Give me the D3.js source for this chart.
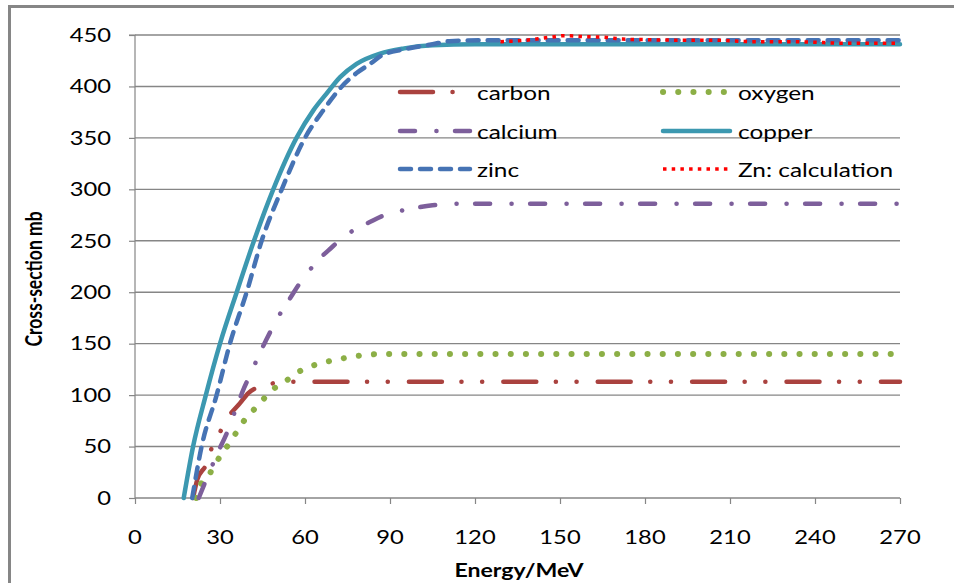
<!DOCTYPE html>
<html>
<head>
<meta charset="utf-8">
<script src="https://cdn.jsdelivr.net/npm/d3@7"></script>
<style>
  html, body { margin: 0; padding: 0; background: #fff; }
  svg { display: block; }
  text { font-family: Lato, "Open Sans", sans-serif; fill: #000; }
</style>
</head>
<body>
<svg id="chart" width="954" height="585"></svg>
<script>
// ---------- data (energy MeV, cross-section mb) ----------
const seriesNames = ["carbon", "oxygen", "calcium", "copper", "zinc", "Zn: calculation"];

const carbon = [[20.5,0],[22,18],[25,32],[27,48],[30,64],[33,79],[37,92],[40,102],[45,109],[50,112],[55,113],[60,113],[270,113]];
const oxygen = [[21.5,0],[23,12],[26,22],[28.5,34],[31.5,46],[34,56],[36.5,67],[39,77],[42,86],[45,95],[48,104],[51,110],[55,117],[58,123],[62,128],[67,132],[72,135],[76,137],[81,139],[88,140],[270,140]];
const calcium = [[22.5,0],[24.7,15],[27,30],[29.7,47],[32.1,61],[34.3,77],[36.5,93],[38.5,107],[41.2,123],[43.9,140],[46.2,153],[49,168],[52.3,184],[54.7,194],[58.2,209],[61.5,221],[65.3,233],[69.2,243],[72.9,252],[77,260],[82.7,268],[88.2,275],[92.9,278.5],[99,282],[105,284.5],[115,286],[270,286]];
const copper = [[17.2,0],[20.5,50],[25,100],[30,150],[35.9,200],[42,250],[48.8,300],[57,350],[63,377],[67.6,393],[72.4,409],[78.2,422],[86.5,432],[95,437],[105,440],[120,441],[270,441]];
const zinc = [[20.2,0],[23.5,50],[28.8,100],[33.5,150],[39.4,200],[44.7,250],[51.8,300],[60,350],[66.5,377],[73,400],[78.2,413],[83,422],[87,430],[95,436],[105,441],[111,444],[125,445],[270,445]];
const znCalc = [[129,443.5],[133,444],[140,445.5],[144,447],[148,448.3],[151,449.3],[155,449],[159,448.3],[165,448],[169,446.8],[172,446],[180,445.5],[190,445],[204,445],[218,443.5],[232,443.5],[243,442.6],[250,442],[270,442]];

const xTicks = [0, 30, 60, 90, 120, 150, 180, 210, 240, 270];
const yTicks = [0, 50, 100, 150, 200, 250, 300, 350, 400, 450];
const xTitle = "Energy/MeV";
const yTitle = "Cross-section mb";

// ---------- styles ----------
const styles = {
  "carbon":          { color: "#AA423F", width: 4.5, dash: "33,19.5,0.1,20.6,0.1,21.1", cap: "round" },
  "oxygen":          { color: "#8CAF46", width: 6,   dash: "0.1,15.1", cap: "round" },
  "calcium":         { color: "#7D5F9B", width: 4.5, dash: "15,21.4,0.1,18.5", cap: "round" },
  "copper":          { color: "#3C98B0", width: 4.5, dash: null, cap: "round" },
  "zinc":            { color: "#4673B4", width: 4.5, dash: "11,9", cap: "round" },
  "Zn: calculation": { color: "#FF0000", width: 3.5, dash: "3.5,5.2", cap: "butt" }
};
const seriesData = [carbon, oxygen, calcium, copper, zinc, znCalc];

(function draw() {
  const SX = 1.25;       // horizontal stretch of the text
  const pL = 135, pR = 900, pT = 35, pB = 498;
  const grey = "#868686";

  const svg = d3.select("#chart");
  svg.append("rect").attr("width", 954).attr("height", 585).attr("fill", "#fff");

  svg.append("line").attr("x1", 9.5).attr("x2", 9.5).attr("y1", 5).attr("y2", 583)
    .attr("stroke", grey).attr("stroke-width", 3);
  svg.append("line").attr("x1", 8).attr("x2", 954).attr("y1", 6.5).attr("y2", 6.5)
    .attr("stroke", grey).attr("stroke-width", 3);

  const x = d3.scaleLinear().domain([0, 270]).range([pL, pR]);
  const y = d3.scaleLinear().domain([0, 450]).range([pB, pT]);

  function stext(g, str, px, py, anchor, opts = {}) {
    return g.append("text")
      .attr("transform", `translate(${px},${py}) ${opts.rotate ? "rotate(-90) scale(1," + SX + ")" : "scale(" + SX + ",1)"}`)
      .attr("text-anchor", anchor)
      .style("font-size", (opts.size || 19) + "px")
      .style("font-weight", opts.bold ? "bold" : "normal")
      .text(str);
  }

  svg.append("g").selectAll("line").data(yTicks.filter(d => d > 0)).join("line")
    .attr("x1", pL).attr("x2", pR)
    .attr("y1", d => y(d)).attr("y2", d => y(d))
    .attr("stroke", grey).attr("stroke-width", 1.4);

  const gy = svg.append("g").attr("transform", `translate(${pL},0)`)
    .call(d3.axisLeft(y).tickValues(yTicks).tickSize(6).tickFormat(""));
  gy.select(".domain").attr("stroke", grey).attr("stroke-width", 1.2).attr("d", `M-6,${pT}H0V${pB}`);
  gy.selectAll(".tick line").attr("stroke", grey).attr("stroke-width", 1.2);

  const gx = svg.append("g").attr("transform", `translate(0,${pB})`)
    .call(d3.axisBottom(x).tickValues(xTicks).tickSize(6).tickFormat(""));
  gx.select(".domain").attr("stroke", grey).attr("stroke-width", 1.4).attr("d", `M${pL},0H${pR}`);
  gx.selectAll(".tick line").attr("stroke", grey).attr("stroke-width", 1.2);

  const labels = svg.append("g");
  yTicks.forEach(v => stext(labels, String(v), 111, y(v) + 6.8, "end"));
  xTicks.forEach(v => stext(labels, String(v), x(v), 544, "middle"));

  stext(labels, xTitle, 519, 577, "middle", { bold: true, size: 18.5 });
  stext(labels, yTitle, 42, 279, "middle", { bold: true, rotate: true, size: 17.5 });

  const line = d3.line().x(d => x(d[0])).y(d => y(d[1])).curve(d3.curveMonotoneX);
  const gs = svg.append("g");
  seriesNames.forEach((name, i) => {
    const s = styles[name];
    gs.append("path").datum(seriesData[i])
      .attr("d", line)
      .attr("fill", "none")
      .attr("stroke", s.color)
      .attr("stroke-width", s.width)
      .attr("stroke-linecap", s.cap)
      .attr("stroke-linejoin", "round")
      .attr("stroke-dasharray", s.dash);
  });

  const legRowsY = [92, 131, 169];
  const legCols = [{ x1: 400, x2: 470, tx: 477 }, { x1: 663, x2: 730, tx: 738 }];
  const gl = svg.append("g");
  seriesNames.forEach((name, i) => {
    const s = styles[name];
    const col = legCols[i % 2], ry = legRowsY[Math.floor(i / 2)];
    gl.append("line")
      .attr("x1", col.x1).attr("x2", col.x2).attr("y1", ry).attr("y2", ry)
      .attr("stroke", s.color).attr("stroke-width", s.width)
      .attr("stroke-linecap", s.cap).attr("stroke-dasharray", s.dash);
    stext(gl, name, col.tx, ry + 8, "start", { size: 19.5 });
  });
})();
</script>
</body>
</html>
